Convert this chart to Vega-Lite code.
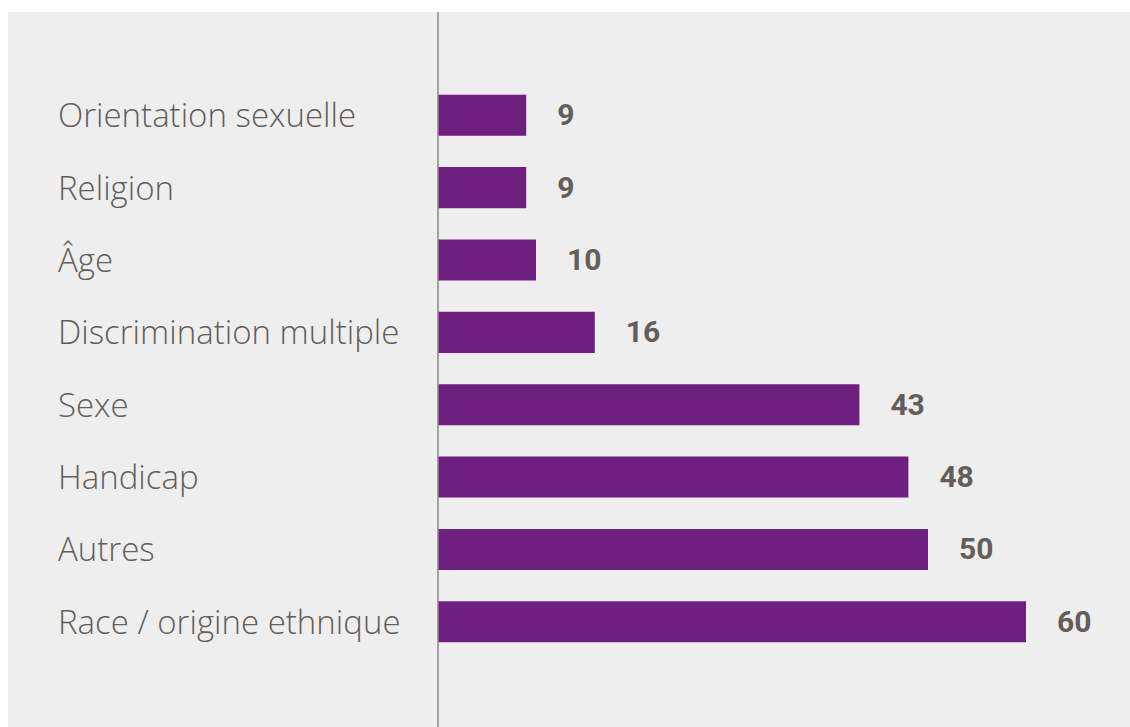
{
  "$schema": "https://vega.github.io/schema/vega-lite/v6.json",
  "width": 1122,
  "height": 715,
  "autosize": {"type": "none"},
  "padding": {"left": 8, "top": 12, "right": 0, "bottom": 0},
  "background": "#ffffff",
  "config": {"view": {"fill": "#eeeeee", "stroke": null}},
  "data": {
    "values": [
      {"categorie": "Orientation sexuelle", "valeur": 9},
      {"categorie": "Religion", "valeur": 9},
      {"categorie": "Âge", "valeur": 10},
      {"categorie": "Discrimination multiple", "valeur": 16},
      {"categorie": "Sexe", "valeur": 43},
      {"categorie": "Handicap", "valeur": 48},
      {"categorie": "Autres", "valeur": 50},
      {"categorie": "Race / origine ethnique", "valeur": 60}
    ]
  },
  "encoding": {
    "y": {
      "field": "categorie",
      "type": "nominal",
      "sort": null,
      "axis": null,
      "scale": {"paddingInner": 0, "paddingOuter": 0.94, "align": 0.493}
    }
  },
  "layer": [
    {
      "mark": {"type": "bar", "color": "#6f1f7f", "height": {"band": 0.567}},
      "encoding": {
        "x": {"field": "valeur", "type": "quantitative", "axis": null, "scale": {"domain": [-43.878, 70.612], "nice": false, "zero": false}}
      }
    },
    {
      "mark": {"type": "text", "align": "left", "baseline": "middle", "dx": 31, "dy": 1, "font": "Roboto", "fontWeight": "bold", "fontSize": 30, "color": "#635e5b"},
      "encoding": {
        "x": {"field": "valeur", "type": "quantitative"},
        "text": {"field": "valeur", "type": "quantitative"}
      }
    },
    {
      "mark": {"type": "text", "align": "left", "baseline": "middle", "dy": 2, "font": "Open Sans", "fontWeight": 300, "fontSize": 33, "color": "#635e5b"},
      "encoding": {
        "x": {"datum": -38.78},
        "text": {"field": "categorie", "type": "nominal"}
      }
    },
    {
      "data": {"values": [{"zero": 0}]},
      "mark": {"type": "rule", "color": "#888888", "strokeWidth": 1.5},
      "encoding": {
        "x": {"field": "zero", "type": "quantitative"},
        "y": null
      }
    }
  ]
}
